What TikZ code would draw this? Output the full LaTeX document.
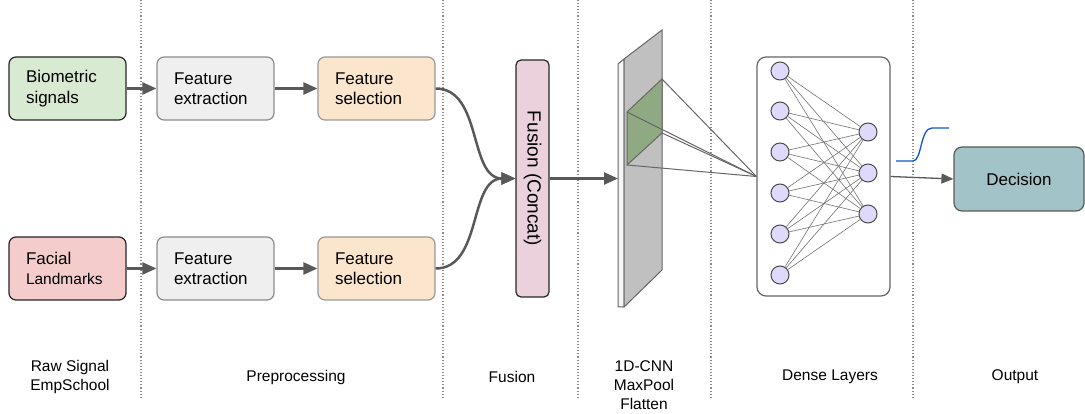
\documentclass[tikz,border=0pt]{standalone}
\usepackage{fontspec}
\setmainfont{Liberation Sans}
\usetikzlibrary{arrows.meta}
\definecolor{biogreen}{HTML}{D9EAD3}
\definecolor{facered}{HTML}{F4CCCC}
\definecolor{extgray}{HTML}{EFEFEF}
\definecolor{selorange}{HTML}{FCE5CD}
\definecolor{fusepink}{HTML}{EAD1DC}
\definecolor{arrowgray}{HTML}{595959}
\definecolor{neuronblue}{HTML}{DFDAFB}
\definecolor{decteal}{HTML}{A2C4C9}
\definecolor{planegray}{HTML}{C0C0C0}
\definecolor{patchgreen}{HTML}{8FAA82}
\definecolor{sigblue}{HTML}{1155CC}

\tikzset{
    stagebox/.style={rounded corners=7pt, line width=1.2pt, text width=83pt,
        inner xsep=17pt, minimum height=63pt, align=left,
        font=\fontsize{17}{20.5}\selectfont},
    flowarrow/.style={draw=arrowgray, line width=2.5pt,
        -{Triangle[length=14pt, width=12pt]}},
    neuron/.style={circle, draw=black!70, fill=neuronblue, line width=1pt,
        minimum size=18pt, inner sep=0pt},
    link/.style={draw=black!55, line width=0.6pt},
    caption/.style={align=center, font=\fontsize{15.5}{19}\selectfont},
    divider/.style={draw=black!45, line width=1.1pt, dotted}
}

\begin{document}
\begin{tikzpicture}[x=1pt, y=-1pt]
    \useasboundingbox (0,0) rectangle (1085,414);

    % Stage dividers
    \foreach \x in {141,443,578,711,913}
        \draw[divider] (\x,0) -- (\x,398);

    % Inputs
    \node[stagebox, draw=black!85, fill=biogreen] (bio) at (67.5,88.5)
        {Biometric\\signals};
    \node[stagebox, draw=black!85, fill=facered] (face) at (67.5,268.5)
        {Facial\\{\fontsize{15.5}{20.5}\selectfont Landmarks}};

    % Preprocessing
    \node[stagebox, draw=black!45, fill=extgray] (extA) at (215.5,88.5)
        {Feature\\extraction};
    \node[stagebox, draw=black!45, fill=extgray] (extB) at (215.5,268.5)
        {Feature\\extraction};
    \node[stagebox, draw=black!40, fill=selorange] (selA) at (376.5,88.5)
        {Feature\\selection};
    \node[stagebox, draw=black!40, fill=selorange] (selB) at (376.5,268.5)
        {Feature\\selection};

    \draw[flowarrow] (bio) -- (extA);
    \draw[flowarrow] (face) -- (extB);
    \draw[flowarrow] (extA) -- (selA);
    \draw[flowarrow] (extB) -- (selB);

    % Fusion
    \node[draw=black!85, fill=fusepink, rounded corners=5pt, line width=1.2pt,
        minimum width=33pt, minimum height=237pt] (fusion) at (532.5,178.5) {};
    \node[rotate=-90, font=\fontsize{19}{20}\selectfont] (fuselbl) at (fusion) {Fusion (Concat)};
    \draw[flowarrow] (selA.east) to[out=0, in=180] (fusion.west);
    \draw[flowarrow] (selB.east) to[out=0, in=180] (fusion.west);

    % 1D-CNN plane
    \draw[draw=black!60, fill=black!4, line width=1pt]
        (618,64) -- (624,59) -- (624,307) -- (618,307) -- cycle;
    \draw[draw=black!60, fill=planegray, line width=1pt]
        (624,59) -- (662,30) -- (662,270) -- (624,307) -- cycle;
    \coordinate (g1) at (662,79);
    \coordinate (g2) at (627,112);
    \coordinate (g3) at (627,165);
    \coordinate (g4) at (662,133);
    \draw[draw=black!60, fill=patchgreen, line width=1pt]
        (g1) -- (g2) -- (g3) -- (g4) -- cycle;
    \coordinate (cnnin) at (618,178.5);
    \draw[flowarrow] (fusion.east) -- (cnnin);

    % Dense layers
    \node[draw=black!60, fill=white, rounded corners=9pt, line width=1.2pt,
        minimum width=133pt, minimum height=239pt] (dense) at (823.5,176.5) {};
    \foreach \g in {g1,g2,g3,g4}
        \draw[draw=black!60, line width=1pt] (\g) -- (dense.west);
    \foreach \i/\y in {1/71,2/111,3/152,4/193,5/234,6/275}
        \node[neuron] (in\i) at (780,\y) {};
    \foreach \j/\y in {1/132,2/173,3/214}
        \node[neuron] (hid\j) at (868,\y) {};
    \foreach \i in {1,...,6}
        \foreach \j in {1,2,3}
            \draw[link] (in\i) -- (hid\j);

    % Output
    \node[draw=black!65, fill=decteal, rounded corners=8pt, line width=1.2pt,
        minimum width=130pt, minimum height=64pt,
        font=\fontsize{17}{20}\selectfont] (decision) at (1019,179) {Decision};
    \draw[draw=arrowgray, line width=1.3pt, -{Triangle[length=12pt, width=10pt]}]
        (dense.east) -- (decision.west);
    % sigmoid
    \draw[sigblue, line width=1.3pt]
        (896,161) -- (913,161) .. controls (922,161) and (920,128) .. (932,128) -- (949,128);

    % Stage captions
    \node[caption] (capraw) at (70,377) {Raw Signal\\EmpSchool};
    \node[caption] (cappre) at (296,377) {Preprocessing};
    \node[caption] (capfuse) at (512,377) {Fusion};
    \node[caption] (capcnn) at (644,385) {1D-CNN\\MaxPool\\Flatten};
    \node[caption] (capdense) at (830,377) {Dense Layers};
    \node[caption] (capout) at (1015,377) {Output};
\end{tikzpicture}
\end{document}
